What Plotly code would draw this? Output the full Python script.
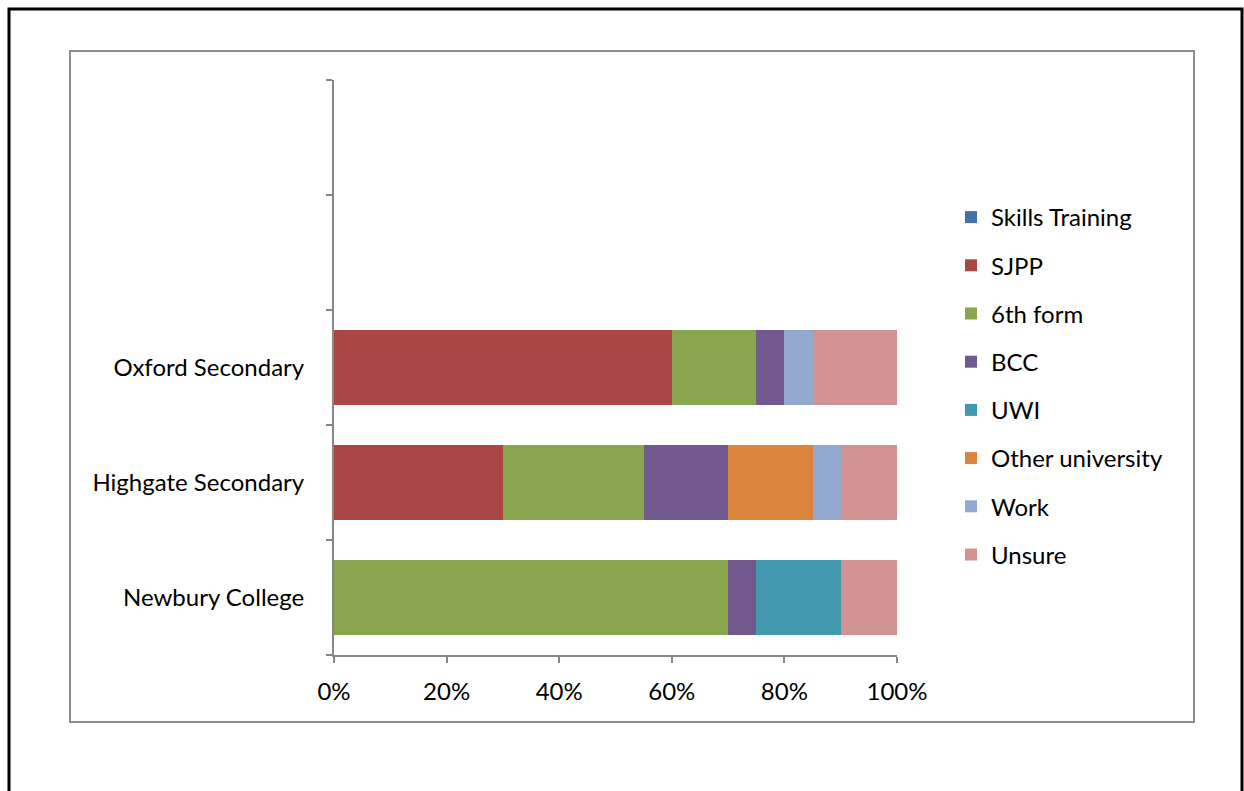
import plotly.graph_objects as go

# Destinations of school leavers, share of each school's cohort (%)
schools = ["Newbury College", "Highgate Secondary", "Oxford Secondary"]
# two unused category slots above the schools
axis_slots = schools + [" ", "  "]

destinations = ["Skills Training", "SJPP", "6th form", "BCC", "UWI",
                "Other university", "Work", "Unsure"]

skills_training = [0, 0, 0]
sjpp = [0, 30, 60]
sixth_form = [70, 25, 15]
bcc = [5, 15, 5]
uwi = [15, 0, 0]
other_university = [0, 15, 0]
work = [0, 5, 5]
unsure = [10, 10, 15]

series = [skills_training, sjpp, sixth_form, bcc, uwi,
          other_university, work, unsure]
colors = ["#4572A7", "#AA4643", "#89A54E", "#71588F", "#4198AF",
          "#DB843D", "#93A9CF", "#D19392"]

W, H = 1244, 791
L, R, T, B = 334, 347, 80, 136
PW, PH = W - L - R, H - T - B

def px_x(px):
    return (px - L) / PW

def px_y(py):
    return 1 - (py - T) / PH

FONT = "Lato"
FS = 24
AXIS_GREY = "#868686"

fig = go.Figure()
for i, (name, vals, col) in enumerate(zip(destinations, series, colors)):
    fig.add_trace(go.Bar(
        y=schools, x=vals, name=name, orientation="h",
        marker=dict(color=col, line=dict(width=0)),
        legendgroup=f"g{i}",
        hoverinfo="skip",
    ))

fig.update_layout(
    width=W, height=H,
    margin=dict(l=L, r=R, t=T, b=B, autoexpand=False),
    paper_bgcolor="white", plot_bgcolor="white",
    barmode="stack", bargap=0.355,
    font=dict(family=FONT, size=FS, color="#000000"),
    showlegend=True,
    legend=dict(
        x=px_x(951), y=px_y(195), xanchor="left", yanchor="top",
        traceorder="grouped", tracegroupgap=14,
        font=dict(family=FONT, size=FS, color="#000000"),
        bgcolor="rgba(0,0,0,0)", itemclick=False,
    ),
    xaxis=dict(
        range=[0, 100], tickvals=[0, 20, 40, 60, 80, 100],
        ticktext=["0%", "20%", "40%", "60%", "80%", "100%"],
        showgrid=False, zeroline=False,
        showline=True, linecolor=AXIS_GREY, linewidth=2,
        ticks="outside", ticklen=6, tickwidth=2, tickcolor=AXIS_GREY,
        ticklabelstandoff=8, fixedrange=True,
    ),
    yaxis=dict(
        type="category", categoryorder="array", categoryarray=axis_slots,
        range=[-0.5, 4.5],
        showgrid=False, zeroline=False,
        showline=True, linecolor=AXIS_GREY, linewidth=2,
        ticks="outside", ticklen=6, tickwidth=2, tickcolor=AXIS_GREY,
        tickson="boundaries", ticklabelstandoff=23, fixedrange=True,
    ),
    shapes=[
        # outer page frame
        dict(type="rect", xref="paper", yref="paper",
             x0=px_x(9), x1=px_x(1242), y0=px_y(810), y1=px_y(9),
             line=dict(color="black", width=3), layer="below"),
        # chart area frame
        dict(type="rect", xref="paper", yref="paper",
             x0=px_x(70), x1=px_x(1194), y0=px_y(722), y1=px_y(51),
             line=dict(color="#8c8c8c", width=2), layer="below"),
    ],
)

fig.write_html("out.html")
